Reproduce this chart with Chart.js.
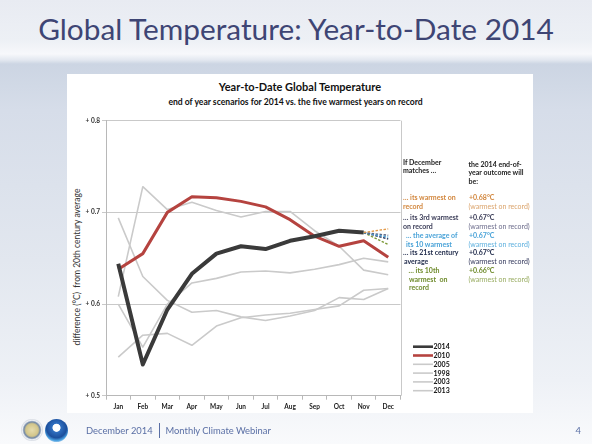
<!DOCTYPE html>
<html>
<head>
<meta charset="utf-8">
<script src="https://cdn.jsdelivr.net/npm/chart.js@4.4.1/dist/chart.umd.min.js"></script>
<style>
html,body{margin:0;padding:0;}
body{width:592px;height:444px;position:relative;overflow:hidden;font-family:Lato,'Open Sans',sans-serif;
 background:linear-gradient(to bottom,#e8ebf2 0px,#edf0f5 40px,#f7f8fb 54px,#e3e8f0 60px,#ccd5e3 64px,#d6dde9 110px,#e2e7ef 260px,#eef1f6 380px,#f9fafc 444px);}
#title{position:absolute;left:0;width:592px;top:9px;text-align:center;font-size:29.8px;color:#3e4574;line-height:40px;white-space:nowrap;}
#panel{position:absolute;left:67px;top:74px;width:466px;height:339px;background:#fff;}
#wrap{position:absolute;left:0;top:0;width:592px;height:444px;}
.t{position:absolute;white-space:nowrap;font-size:7px;line-height:9px;}
.b{font-weight:bold;}
#ytitle{position:absolute;left:76.7px;top:266.5px;transform:translate(-50%,-50%) rotate(-90deg);font-size:8.5px;color:#333;white-space:nowrap;line-height:10px;}
.logo{position:absolute;border-radius:50%;}
.foot{position:absolute;white-space:nowrap;font-size:9.4px;line-height:12px;color:#5a6fa5;top:425px;}
</style>
</head>
<body>
<div id="title">Global Temperature: Year-to-Date 2014</div>
<div id="panel"></div>
<div class="t b" style="left:0;width:600px;top:79.5px;text-align:center;font-size:11px;line-height:13px;color:#111;">Year-to-Date Global Temperature</div>
<div class="t b" style="left:0;width:591px;top:97px;text-align:center;font-size:8.6px;line-height:10px;color:#111;">end of year scenarios for 2014 vs. the five warmest years on record</div>
<div id="ytitle">difference (°C)&nbsp; from 20th century average</div>
<div id="wrap"><canvas id="c" width="592" height="444"></canvas></div>
<div id="notes"></div>
<div class="logo" style="left:21px;top:419px;width:22px;height:22px;background:radial-gradient(circle,#e6dcae 0,#d2c58a 40%,#6f86a6 52%,#eef0f4 62%,#b7bfcc 80%,#eef0f4 100%);"></div>
<div class="logo" style="left:45px;top:418.5px;width:23px;height:23px;background:radial-gradient(circle at 50% 38%,#ffffff 0,#ffffff 20%,#2f6fc0 24%,#1c4f9c 55%,#4aa0e0 70%,#e8eef7 86%,#c8d0dc 100%);"></div>
<div class="foot" style="left:86px;">December 2014</div>
<div style="position:absolute;left:158.5px;top:423px;width:1.5px;height:15px;background:#5a6fa5;"></div>
<div class="foot" style="left:165.5px;">Monthly Climate Webinar</div>
<div class="foot" style="left:575.5px;">4</div>
<script>
// ---- data ----
const months = ['Jan','Feb','Mar','Apr','May','Jun','Jul','Aug','Sep','Oct','Nov','Dec'];
const y2014 = [0.644,0.534,0.594,0.633,0.655,0.663,0.660,0.669,0.674,0.680,0.678,null];
const y2010 = [0.638,0.655,0.700,0.717,0.716,0.712,0.706,0.692,0.674,0.663,0.669,0.651];
const y2005 = [0.600,0.553,0.600,0.623,0.628,0.635,0.636,0.634,0.638,0.643,0.650,0.646];
const y1998 = [0.608,0.728,0.703,0.711,0.702,0.695,0.701,0.701,0.680,0.663,0.637,0.632];
const y2003 = [0.694,0.630,0.604,0.591,0.593,0.586,0.582,0.587,0.593,0.607,0.605,0.617];
const y2013 = [0.542,0.566,0.568,0.555,0.576,0.585,0.588,0.590,0.594,0.598,0.615,0.617];
const scenarioNames = ['warmest','3rd warmest','avg of 10 warmest','21st century avg','10th warmest'];
const scenarioDec = [0.682,0.675,0.673,0.671,0.665];
const scenarioColors = ['#e39a4a','#5b6888','#4aa6dc','#26345e','#7d9a38'];
const yTicks = [0.5,0.6,0.7,0.8];

// ---- annotations (html text) ----
const notes = [
 ['If December',403,162.3,'#222',1],['matches …',403,170.5,'#222',1],
 ['the 2014 end-of-',468.5,164.3,'#222',1],['year outcome will',468.5,172.5,'#222',1],['be:',468.5,181,'#222',1],
 ['… its warmest on',403,197.7,'#d2873e',1],['record',403,206,'#d2873e',1],
 ['+0.68°C',469,197.7,'#d2873e',1],['(warmest on record)',468.5,206,'#dba46c',0],
 ['… its 3rd warmest',403,217.7,'#3b3d58',1],['on record',403,226,'#3b3d58',1],
 ['+0.67°C',469,217.7,'#3b3d58',1],['(warmest on record)',468.5,226,'#6d6d8c',0],
 ['… the average of',406,235.7,'#4aa3d8',1],['its 10 warmest',406,244,'#4aa3d8',1],
 ['+0.67°C',469,235.7,'#4aa3d8',1],['(warmest on record)',468.5,244,'#5eb0de',0],
 ['… its 21st century',403,252.7,'#1f2a4a',1],['average',404,261,'#1f2a4a',1],
 ['+0.67°C',469,252.7,'#1f2a4a',1],['(warmest on record)',468.5,261,'#33385c',0],
 ['… its 10th',408.5,270.7,'#6f8b2c',1],['warmest&nbsp; on',409,279,'#6f8b2c',1],['record',409,287.3,'#6f8b2c',1],
 ['+0.66°C',469,270.7,'#6f8b2c',1],['(warmest on record)',468.5,279,'#99ac62',0]
];
const nd = document.getElementById('notes');
notes.forEach(n=>{
  const d=document.createElement('div');
  d.className='t'+(n[4]?' b':'');
  d.style.left=n[1]+'px'; d.style.top=(n[2]-4.5)+'px'; d.style.color=n[3];
  d.innerHTML=n[0]; nd.appendChild(d);
});

// ---- chart ----
const grayC = '#cacaca';
const datasets = [
  {label:'2014',data:y2014,borderColor:'#3a3a3a',borderWidth:4,order:1},
  {label:'2010',data:y2010,borderColor:'#b5433f',borderWidth:3,order:2},
  {label:'2005',data:y2005,borderColor:grayC,borderWidth:1.6,order:3},
  {label:'1998',data:y1998,borderColor:grayC,borderWidth:1.6,order:3},
  {label:'2003',data:y2003,borderColor:grayC,borderWidth:1.6,order:3},
  {label:'2013',data:y2013,borderColor:grayC,borderWidth:1.6,order:3}
];
scenarioDec.forEach((v,i)=>{
  const d = months.map(()=>null);
  d[10]=y2014[10]; d[11]=v;
  datasets.push({label:scenarioNames[i],data:d,borderColor:scenarioColors[i],borderWidth:1.4,borderDash:[2.5,1.5],order:0,scenario:true});
});
datasets.forEach(d=>{d.pointRadius=0;d.fill=false;d.tension=0;d.spanGaps=false;d.borderJoinStyle='round';});

const legendPlugin = {
  id:'customLegend',
  afterDraw(chart){
    const ctx=chart.ctx;
    const ys=[346.7,355.5,364.3,373.1,381.9,390.7];
    let k=0;
    chart.data.datasets.forEach(ds=>{
      if(ds.scenario) return;
      const y=ys[k++];
      ctx.save();
      ctx.strokeStyle=ds.borderColor; ctx.lineWidth=Math.min(ds.borderWidth,2.6);
      ctx.beginPath(); ctx.moveTo(413,y); ctx.lineTo(433,y); ctx.stroke();
      ctx.fillStyle='#111'; ctx.font='bold 7px Lato'; ctx.textBaseline='middle'; ctx.textAlign='left';
      ctx.fillText(ds.label,433.5,y+0.3);
      ctx.restore();
    });
    const a=chart.chartArea;
    ctx.save(); ctx.strokeStyle='#c9c9c9'; ctx.lineWidth=1;
    ctx.beginPath(); ctx.moveTo(Math.round(a.right)+0.5,a.top); ctx.lineTo(Math.round(a.right)+0.5,a.bottom); ctx.stroke();
    ctx.restore();
  }
};

function build(){
new Chart(document.getElementById('c'),{
  type:'line',
  data:{labels:months,datasets:datasets},
  options:{
    responsive:false,animation:false,
    layout:{padding:{left:60,right:191.5,top:120.7,bottom:28.3}},
    plugins:{legend:{display:false},tooltip:{enabled:false},title:{display:false}},
    scales:{
      x:{type:'category',offset:true,
        grid:{display:true,drawOnChartArea:false,drawTicks:true,tickLength:4,offset:true,color:'#b8b8b8'},
        border:{display:true,color:'#b8b8b8'},
        ticks:{font:{family:'Lato',size:6.5,weight:'bold'},color:'#222',padding:3,maxRotation:0,autoSkip:false},
        afterFit(s){s.height=20;}
      },
      y:{min:0.5,max:0.8,
        afterBuildTicks(s){s.ticks=yTicks.map(v=>({value:v}));},
        grid:{color:'#c9c9c9',tickLength:4,drawTicks:true},
        border:{display:true,color:'#b8b8b8'},
        ticks:{font:{family:'Lato',size:6.5,weight:'bold'},color:'#333',padding:2,
          callback:(v)=>'+ '+Number(v).toFixed(1)},
        afterFit(s){s.width=46;}
      }
    }
  },
  plugins:[legendPlugin]
});
}
Promise.all([document.fonts.load('bold 7px Lato'),document.fonts.load('7px Lato')]).then(build,build);
</script>
</body>
</html>
